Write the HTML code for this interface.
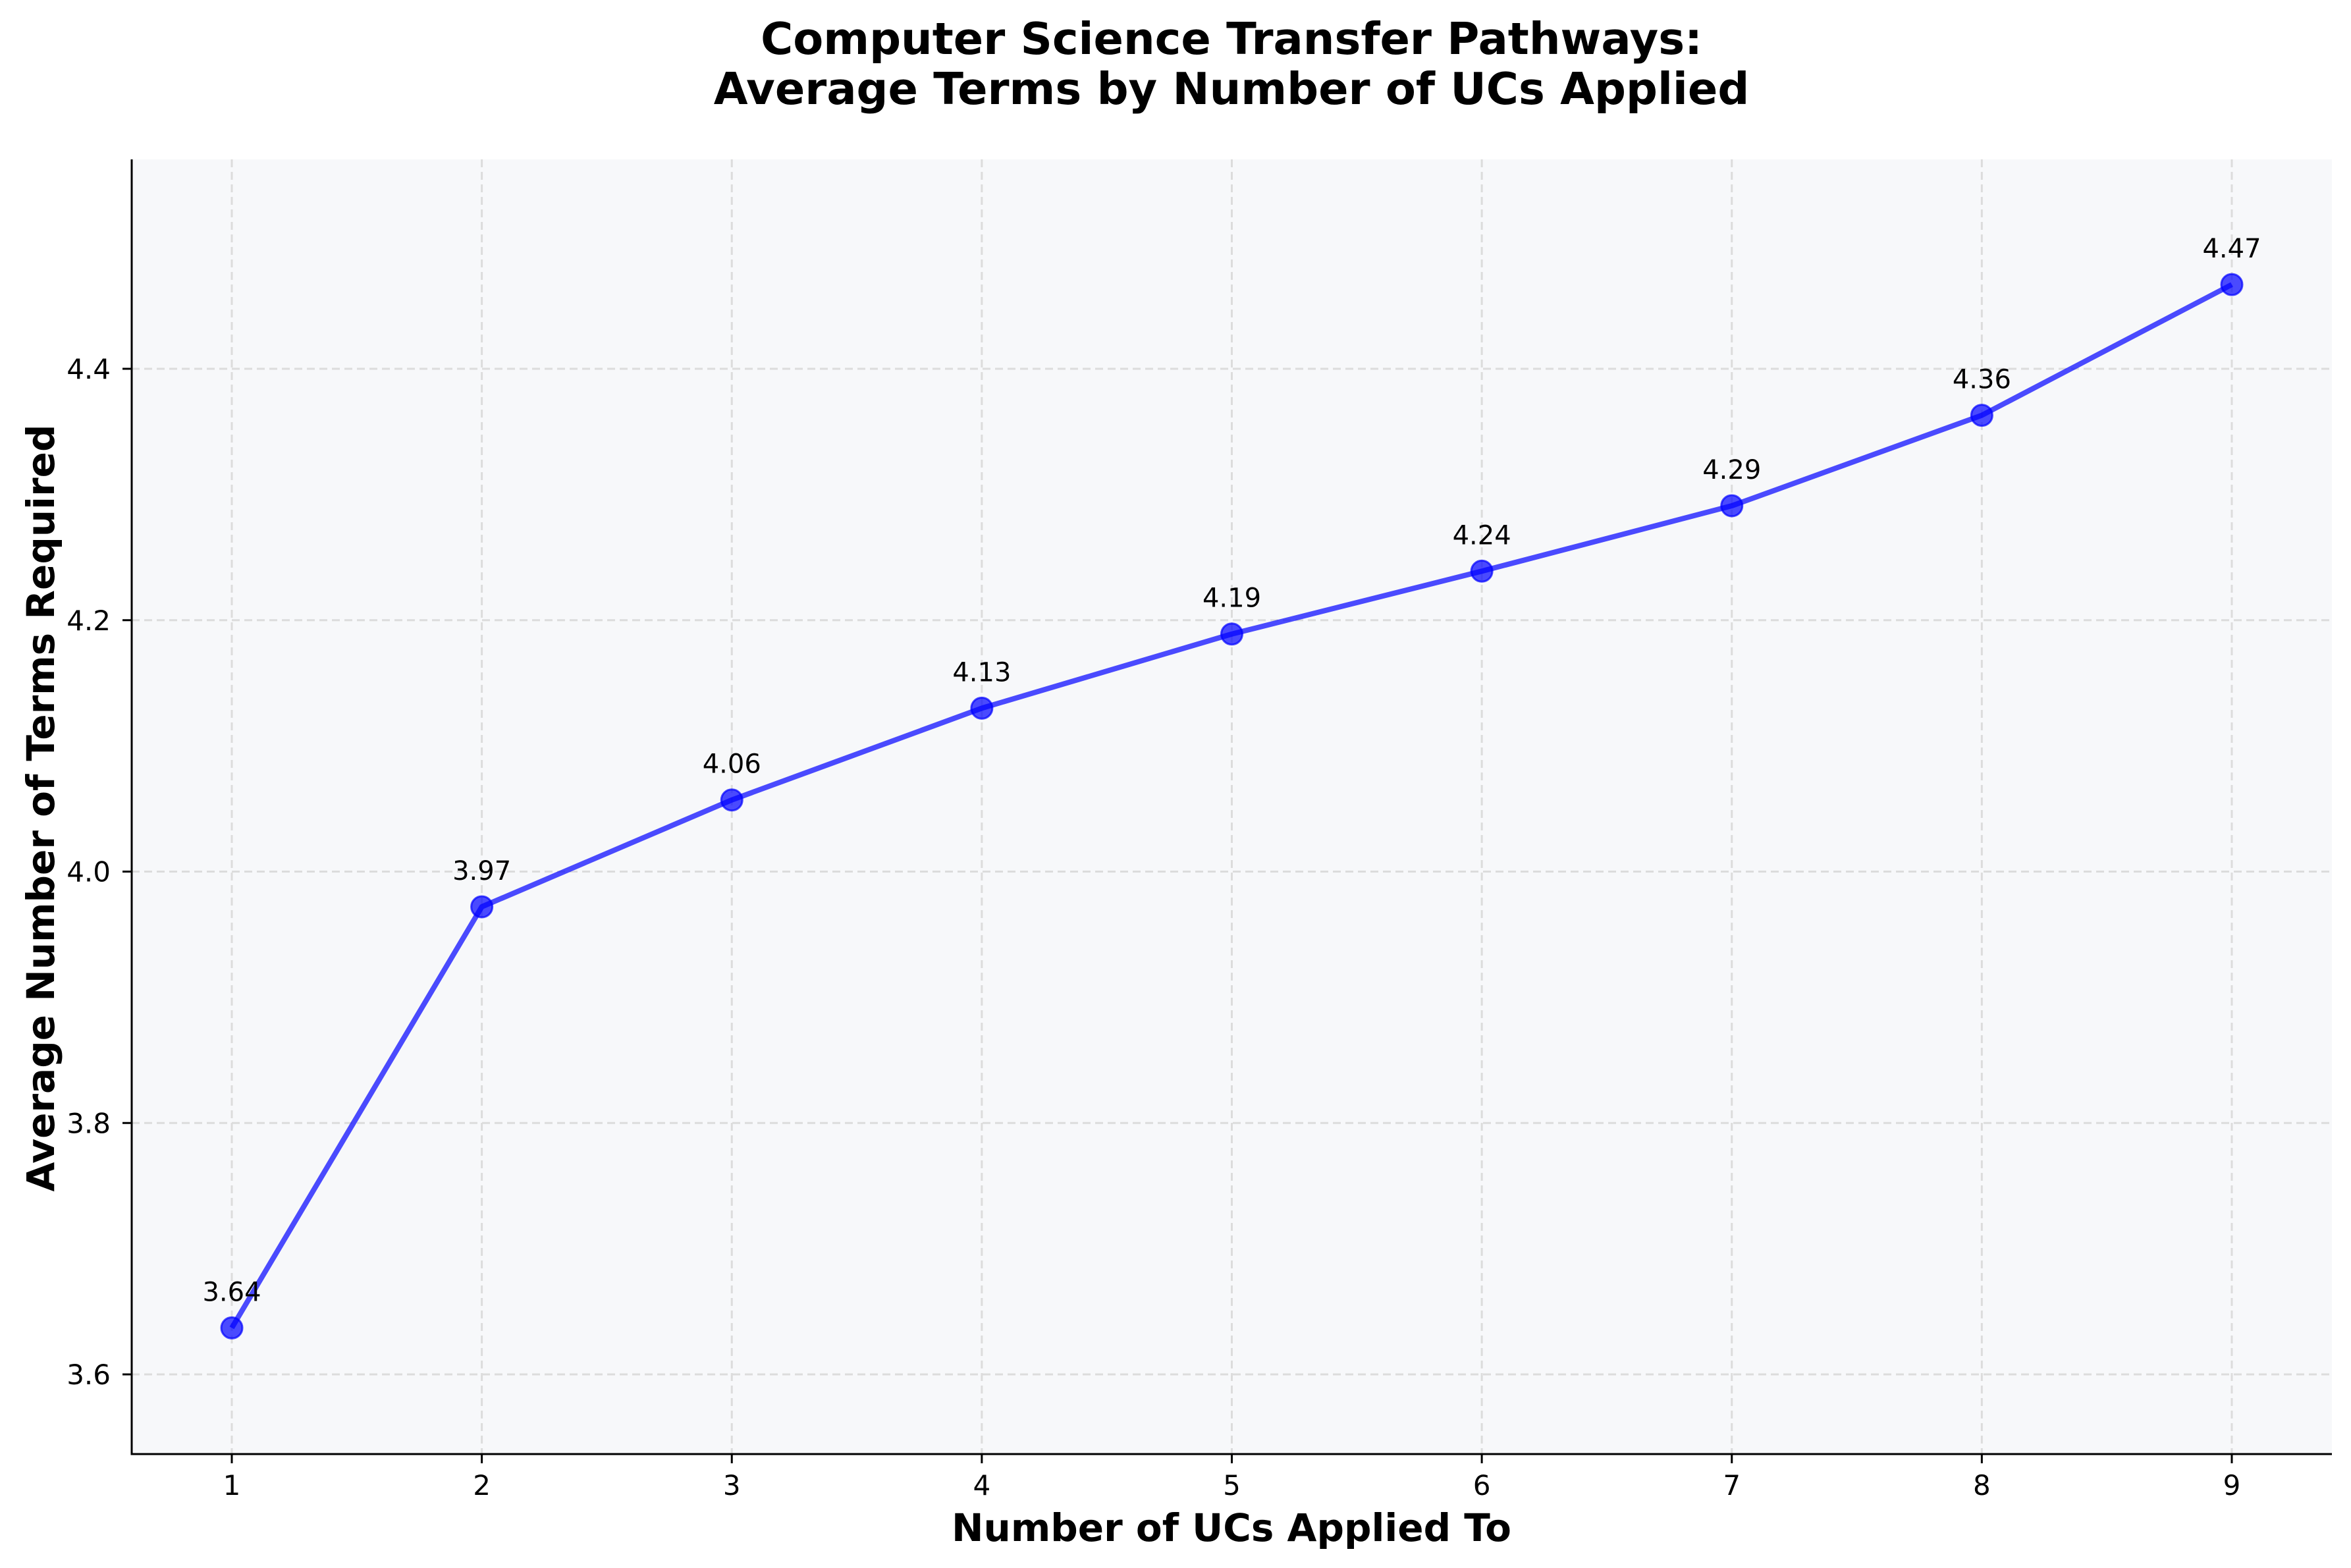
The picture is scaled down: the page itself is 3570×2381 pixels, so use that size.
<!DOCTYPE html>
<html><head><meta charset="utf-8">
<style>
html,body{margin:0;padding:0;background:#fff;}
svg{display:block;font-family:"DejaVu Sans","Liberation Sans",sans-serif;}
</style></head>
<body>
<svg id="chart" width="3570" height="2381" viewBox="0 0 3570 2381">
  <rect x="0" y="0" width="3570" height="2381" fill="#fff"/>
  <rect x="200" y="242" width="3341" height="1966" fill="#f7f8fa"/>
  <g id="grid"></g>
  <g id="series"></g>
  <g id="labels"></g>
  <line x1="200" y1="242" x2="200" y2="2208" stroke="#000" stroke-width="3"/>
  <line x1="198.5" y1="2208" x2="3541" y2="2208" stroke="#000" stroke-width="3"/>
  <g id="xticks"></g>
  <g id="yticks"></g>
  <text x="1870" y="82" text-anchor="middle" font-size="67" font-weight="bold">Computer Science Transfer Pathways:</text>
  <text x="1870" y="158" text-anchor="middle" font-size="67" font-weight="bold">Average Terms by Number of UCs Applied</text>
  <text x="1870" y="2340" text-anchor="middle" font-size="58" font-weight="bold">Number of UCs Applied To</text>
  <text x="0" y="0" transform="translate(82,1227) rotate(-90)" text-anchor="middle" font-size="58" font-weight="bold">Average Number of Terms Required</text>
</svg>
<script>
const categories = [1,2,3,4,5,6,7,8,9];
const values = [3.637,3.972,4.057,4.130,4.189,4.239,4.291,4.363,4.467];
const yTicks = [3.6,3.8,4.0,4.2,4.4];
const yTickLabels = ["3.6","3.8","4.0","4.2","4.4"];

const NS = "http://www.w3.org/2000/svg";
function xs(v){ return 352 + (v-1)*(3389-352)/8; }
function ys(v){ return 2087 - (v-3.6)*(2087-560)/0.8; }
function mk(tag, attrs, parent){
  const e = document.createElementNS(NS, tag);
  for (const k in attrs) e.setAttribute(k, attrs[k]);
  parent.appendChild(e); return e;
}
const grid = document.getElementById('grid');
const xt = document.getElementById('xticks');
const yt = document.getElementById('yticks');
categories.forEach(c=>{
  const x = xs(c);
  const g = mk('line',{x1:x,y1:242,x2:x,y2:2208,stroke:'#dcdcdc','stroke-width':3,'stroke-dasharray':'12 7'},grid);
  
  
  const t = mk('line',{x1:x,y1:2208,x2:x,y2:2222,stroke:'#000','stroke-width':3},xt);
  
  
  const l = mk('text',{x:x,y:2270,'text-anchor':'middle','font-size':42},xt);
  l.textContent = String(c);
  
  
});
yTicks.forEach((v,i)=>{
  const y = ys(v);
  const g = mk('line',{x1:200,y1:y,x2:3541,y2:y,stroke:'#dcdcdc','stroke-width':3,'stroke-dasharray':'12 7'},grid);
  
  
  const t = mk('line',{x1:186,y1:y,x2:200,y2:y,stroke:'#000','stroke-width':3},yt);
  
  
  const l = mk('text',{x:168,y:y+15,'text-anchor':'end','font-size':42},yt);
  l.textContent = yTickLabels[i];
  
  
});
const series = document.getElementById('series');
const pts = categories.map((c,i)=>xs(c)+','+ys(values[i])).join(' ');
const pl = mk('polyline',{points:pts,fill:'none',stroke:'#0000ff','stroke-opacity':0.7,'stroke-width':8,'stroke-linejoin':'round'},series);


const labels = document.getElementById('labels');
categories.forEach((c,i)=>{
  const cx = xs(c), cy = ys(values[i]);
  const p = mk('circle',{cx:cx,cy:cy,r:16,fill:'#0000ff','fill-opacity':0.7,stroke:'#0000ff','stroke-opacity':0.7,'stroke-width':3},series);
  
  
  const t = mk('text',{x:cx,y:cy-41,'text-anchor':'middle','font-size':40},labels);
  t.textContent = values[i].toFixed(2);
  
  
});
</script>
</body></html>
